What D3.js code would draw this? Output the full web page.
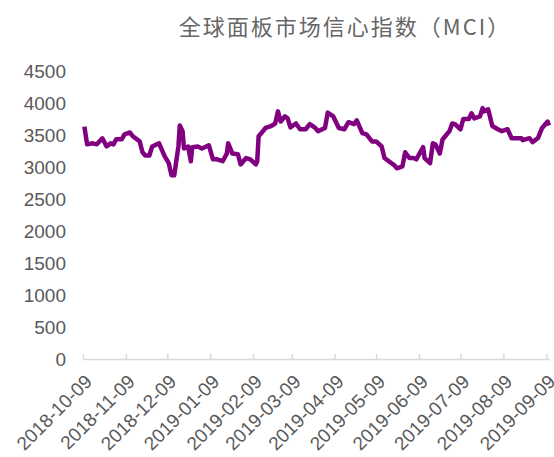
<!DOCTYPE html>
<html>
<head>
<meta charset="utf-8">
<script src="https://cdn.jsdelivr.net/npm/d3@7"></script>
<style>
  body { margin: 0; background: #fff; }
  svg text { font-family: "Liberation Sans", Arial, sans-serif; fill: #595959; }
</style>
</head>
<body>
<svg id="mci" width="554" height="457"></svg>
<script>
// MCI index values
const dates = [
  "2018-10-10", "2018-10-12", "2018-10-16", "2018-10-19", "2018-10-23", "2018-10-26",
  "2018-10-29", "2018-10-31", "2018-11-02", "2018-11-06", "2018-11-08", "2018-11-12",
  "2018-11-14", "2018-11-19", "2018-11-21", "2018-11-23", "2018-11-26", "2018-11-28",
  "2018-11-30", "2018-12-03", "2018-12-07", "2018-12-10", "2018-12-12", "2018-12-14",
  "2018-12-17", "2018-12-18", "2018-12-20", "2018-12-21", "2018-12-24", "2018-12-26",
  "2018-12-27", "2018-12-31", "2019-01-03", "2019-01-08", "2019-01-11", "2019-01-14",
  "2019-01-18", "2019-01-21", "2019-01-22", "2019-01-25", "2019-01-29", "2019-01-31",
  "2019-02-04", "2019-02-07", "2019-02-11", "2019-02-12", "2019-02-13", "2019-02-15",
  "2019-02-18", "2019-02-22", "2019-02-25", "2019-02-27", "2019-03-01", "2019-03-04",
  "2019-03-06", "2019-03-08", "2019-03-12", "2019-03-15", "2019-03-19", "2019-03-22",
  "2019-03-26", "2019-03-28", "2019-04-02", "2019-04-04", "2019-04-08", "2019-04-12",
  "2019-04-16", "2019-04-19", "2019-04-23", "2019-04-25", "2019-04-29", "2019-05-02",
  "2019-05-06", "2019-05-09", "2019-05-13", "2019-05-15", "2019-05-20", "2019-05-22",
  "2019-05-24", "2019-05-28", "2019-05-30", "2019-06-02", "2019-06-05", "2019-06-07",
  "2019-06-12", "2019-06-13", "2019-06-17", "2019-06-19", "2019-06-21", "2019-06-24",
  "2019-06-26", "2019-07-01", "2019-07-03", "2019-07-05", "2019-07-09", "2019-07-11",
  "2019-07-15", "2019-07-17", "2019-07-19", "2019-07-23", "2019-07-25", "2019-07-26",
  "2019-07-29", "2019-08-01", "2019-08-05", "2019-08-08", "2019-08-12", "2019-08-15",
  "2019-08-19", "2019-08-22", "2019-08-23", "2019-08-28", "2019-08-30", "2019-09-03",
  "2019-09-06", "2019-09-10", "2019-09-11"
];
const mciValues = [
  3630, 3354, 3370, 3354, 3448, 3323,
  3370, 3354, 3432, 3432, 3510, 3540,
  3480, 3400, 3230, 3180, 3180, 3320,
  3340, 3370, 3170, 3060, 2870, 2870,
  3320, 3650, 3560, 3290, 3320, 3090,
  3310, 3320, 3290, 3340, 3120, 3120,
  3090, 3210, 3370, 3210, 3200, 3040,
  3140, 3120, 3040, 3090, 3480, 3530,
  3610, 3640, 3680, 3870, 3710, 3790,
  3760, 3620, 3680, 3590, 3590, 3670,
  3610, 3560, 3610, 3850, 3790, 3610,
  3590, 3700, 3670, 3730, 3530, 3510,
  3400, 3400, 3320, 3140, 3060, 3030,
  2980, 3010, 3230, 3140, 3140, 3120,
  3310, 3140, 3060, 3370, 3350, 3210,
  3430, 3560, 3680, 3670, 3590, 3750,
  3750, 3840, 3760, 3790, 3920, 3870,
  3900, 3640, 3590, 3560, 3590, 3450,
  3450, 3450, 3420, 3450, 3390, 3450,
  3610, 3710, 3650
];
const xTickLabels = [
  "2018-10-09", "2018-11-09", "2018-12-09", "2019-01-09", "2019-02-09", "2019-03-09",
  "2019-04-09", "2019-05-09", "2019-06-09", "2019-07-09", "2019-08-09", "2019-09-09"
];
const yTicks = [0, 500, 1000, 1500, 2000, 2500, 3000, 3500, 4000, 4500];
const chartTitle = "全球面板市场信心指数（MCI）";

const svg = d3.select("svg#mci");
const parseDate = d3.timeParse("%Y-%m-%d");

const data = dates.map((d, i) => ({ date: parseDate(d), value: mciValues[i] }));
const tickDates = xTickLabels.map(parseDate);

const xScale = d3
  .scaleTime()
  .domain([parseDate("2018-10-09"), parseDate("2019-09-11")])
  .range([83, 549]);

const yScale = d3.scaleLinear().domain([0, 4500]).range([359, 71]);

// title
svg
  .append("text")
  .attr("x", 345)
  .attr("y", 27)
  .attr("dy", "0.35em")
  .attr("text-anchor", "middle")
  .style("font-family", '"Noto Sans CJK SC", "Liberation Sans", sans-serif')
  .style("font-size", "22px")
  .style("letter-spacing", "2px")
  .style("fill", "#666")
  .text(chartTitle);

// y axis (labels only)
const yAxis = svg
  .append("g")
  .attr("class", "y axis")
  .attr("transform", "translate(66,0)")
  .call(
    d3
      .axisLeft(yScale)
      .tickValues(yTicks)
      .tickFormat(d3.format("d"))
      .tickSize(0)
      .tickPadding(0)
  );
yAxis.select(".domain").remove();
yAxis.selectAll("text").style("font-size", "19px");

// x axis
const xAxis = svg
  .append("g")
  .attr("class", "x axis")
  .attr("transform", "translate(0,359)")
  .call(
    d3
      .axisBottom(xScale)
      .tickValues(tickDates)
      .tickFormat(d3.timeFormat("%Y-%m-%d"))
      .tickSizeInner(-5)
      .tickSizeOuter(0)
  );
xAxis.select(".domain").attr("stroke", "#d9d9d9").attr("stroke-width", 1.5);
xAxis.selectAll(".tick line").attr("stroke", "#d9d9d9").attr("stroke-width", 1.5);
xAxis
  .selectAll(".tick text")
  .style("font-size", "19px")
  .attr("text-anchor", "end")
  .attr("y", 0)
  .attr("dy", "0.35em")
  .attr("transform", "translate(5,19) rotate(-45)");

// the line
const lineGen = d3
  .line()
  .x((d) => xScale(d.date))
  .y((d) => yScale(d.value));

svg
  .append("path")
  .datum(data)
  .attr("fill", "none")
  .attr("stroke", "#800080")
  .attr("stroke-width", 4.5)
  .attr("stroke-linejoin", "round")
  .attr("d", lineGen);
</script>
</body>
</html>
